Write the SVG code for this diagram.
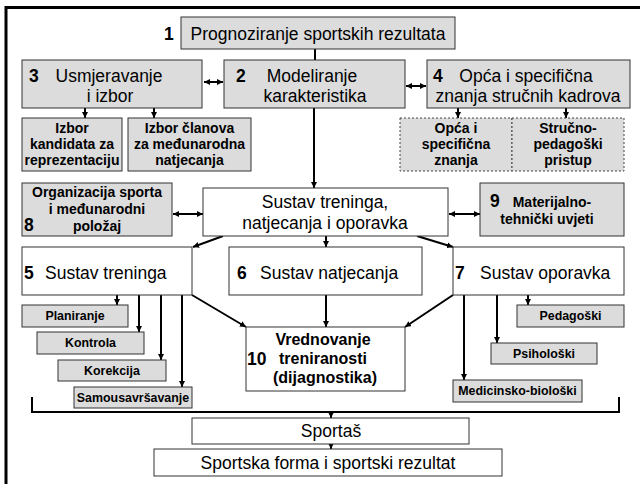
<svg xmlns="http://www.w3.org/2000/svg" width="640" height="484" viewBox="0 0 640 484">
<defs>
<marker id="ah" viewBox="0 0 6 6" refX="6" refY="3" markerWidth="6" markerHeight="6" markerUnits="userSpaceOnUse" orient="auto-start-reverse">
<path d="M0,0 L6,3 L0,6 z" fill="#000"/>
</marker>
<style>
.g{fill:#dcdcdc;stroke:#333;stroke-width:1}
.w{fill:#fff;stroke:#333;stroke-width:1}
.d{fill:#dcdcdc;stroke:#444;stroke-width:1;stroke-dasharray:2,2}
text{font-family:"Liberation Sans",Arial,sans-serif;fill:#000}
.t{font-size:17.5px}
.c{text-anchor:middle}
.n{font-size:17.5px;font-weight:bold}
.b{font-size:14px;font-weight:bold;text-anchor:middle}
.s{font-size:12.4px;font-weight:bold;text-anchor:middle}
.v{font-size:16px;font-weight:bold;text-anchor:middle}
.k{stroke:#000;stroke-width:2;fill:none}
.a{stroke:#000;stroke-width:2;fill:none;marker-end:url(#ah)}
.aa{stroke:#000;stroke-width:2;fill:none;marker-end:url(#ah);marker-start:url(#ah)}
</style>
</defs>
<rect width="640" height="484" fill="#fff"/>
<path d="M6,484 V7.5 H640" fill="none" stroke="#000" stroke-width="3"/>

<g id="connectors">
<line class="k" x1="315" y1="49" x2="315" y2="60"/>
<line class="a" x1="314" y1="108" x2="314" y2="188"/>
<line class="aa" x1="204" y1="82" x2="223" y2="82"/>
<line class="aa" x1="406" y1="86" x2="426" y2="86"/>
<line class="a" x1="85" y1="108" x2="85" y2="118"/>
<line class="a" x1="154" y1="108" x2="154" y2="118"/>
<line class="a" x1="458" y1="108" x2="458" y2="118"/>
<line class="a" x1="566" y1="108" x2="566" y2="118"/>
<line class="aa" x1="173" y1="214" x2="203" y2="214"/>
<line class="aa" x1="449" y1="214" x2="480" y2="214"/>
<line class="a" x1="223" y1="236" x2="193" y2="247"/>
<line class="a" x1="326" y1="236" x2="326" y2="247"/>
<line class="a" x1="417" y1="236" x2="453" y2="247"/>
<line class="a" x1="192" y1="295" x2="246" y2="327"/>
<line class="a" x1="326" y1="295" x2="326" y2="327"/>
<line class="a" x1="453" y1="295" x2="405" y2="327"/>
<line class="a" x1="117" y1="295" x2="117" y2="305"/>
<line class="a" x1="139" y1="295" x2="139" y2="332"/>
<line class="a" x1="161" y1="295" x2="161" y2="360"/>
<line class="a" x1="182" y1="295" x2="182" y2="387"/>
<line class="a" x1="528" y1="295" x2="528" y2="305"/>
<line class="a" x1="497" y1="295" x2="497" y2="343"/>
<line class="a" x1="464" y1="295" x2="464" y2="380"/>
<path class="k" d="M32,397 V412 H619 V397"/>
<line class="a" x1="331" y1="412" x2="331" y2="418"/>
<line class="a" x1="331" y1="444" x2="331" y2="449"/>
</g>

<g id="n1">
<rect class="g" x="181" y="17" width="274" height="32"/>
<text class="n" x="164" y="40">1</text>
<text class="t c" x="318" y="40">Prognoziranje sportskih rezultata</text>
</g>
<g id="n3">
<rect class="g" x="22" y="60" width="180" height="48"/>
<text class="n" x="29" y="82">3</text>
<text class="t c" x="109" y="82">Usmjeravanje</text>
<text class="t c" x="110" y="102">i izbor</text>
</g>
<g id="n2">
<rect class="g" x="224" y="60" width="181" height="48"/>
<text class="n" x="236" y="82">2</text>
<text class="t c" x="312" y="82">Modeliranje</text>
<text class="t c" x="315" y="102">karakteristika</text>
</g>
<g id="n4">
<rect class="g" x="427" y="60" width="203" height="48"/>
<text class="n" x="433" y="82">4</text>
<text class="t c" x="526" y="82">Opća i specifična</text>
<text class="t c" x="528" y="102">znanja stručnih kadrova</text>
</g>
<g id="n3a">
<rect class="g" x="22" y="118" width="100" height="53"/>
<text class="b" x="72" y="133">Izbor</text>
<text class="b" x="72" y="149">kandidata za</text>
<text class="b" x="72" y="165">reprezentaciju</text>
</g>
<g id="n3b">
<rect class="g" x="128" y="118" width="123" height="53"/>
<text class="b" x="189.5" y="133">Izbor članova</text>
<text class="b" x="189.5" y="149">za međunarodna</text>
<text class="b" x="189.5" y="165">natjecanja</text>
</g>
<g id="n4a">
<rect class="d" x="400" y="118" width="112" height="53"/>
<text class="b" x="456" y="133">Opća i</text>
<text class="b" x="456" y="149">specifična</text>
<text class="b" x="456" y="165">znanja</text>
</g>
<g id="n4b">
<rect class="d" x="512" y="118" width="112" height="53"/>
<text class="b" x="568" y="133">Stručno-</text>
<text class="b" x="568" y="149">pedagoški</text>
<text class="b" x="568" y="165">pristup</text>
</g>
<g id="n8">
<rect class="g" x="22" y="183" width="150" height="53"/>
<text class="b" x="97" y="197">Organizacija sporta</text>
<text class="b" x="97" y="214">i međunarodni</text>
<text class="b" x="97" y="231">položaj</text>
<text class="n" x="24" y="231" font-size="19">8</text>
</g>
<g id="nc">
<rect class="w" x="203" y="188" width="245" height="48"/>
<text class="t c" x="325" y="208">Sustav treninga,</text>
<text class="t c" x="325" y="229">natjecanja i oporavka</text>
</g>
<g id="n9">
<rect class="g" x="480" y="183" width="144" height="53"/>
<text class="n" x="490" y="207">9</text>
<text class="b" x="552" y="207">Materijalno-</text>
<text class="b" x="547" y="224">tehnički uvjeti</text>
</g>
<g id="n5">
<rect class="w" x="22" y="247" width="170" height="48"/>
<text class="n" x="24" y="279">5</text>
<text class="t" x="45" y="279">Sustav treninga</text>
</g>
<g id="n6">
<rect class="w" x="229" y="247" width="193" height="48"/>
<text class="n" x="237" y="279">6</text>
<text class="t" x="260" y="279">Sustav natjecanja</text>
</g>
<g id="n7">
<rect class="w" x="453" y="247" width="171" height="48"/>
<text class="n" x="455" y="279">7</text>
<text class="t" x="480" y="279">Sustav oporavka</text>
</g>
<g id="n10">
<rect class="w" x="246" y="327" width="159" height="64"/>
<text class="v" x="323" y="345">Vrednovanje</text>
<text class="v" x="323" y="364">treniranosti</text>
<text class="v" x="325" y="383">(dijagnostika)</text>
<text class="n" x="247" y="365" font-size="18">10</text>
</g>
<g id="n5a">
<rect class="g" x="22" y="305" width="106" height="22"/>
<text class="s" x="75" y="320">Planiranje</text>
</g>
<g id="n5b">
<rect class="g" x="37" y="332" width="107" height="22"/>
<text class="s" x="90.5" y="347">Kontrola</text>
</g>
<g id="n5c">
<rect class="g" x="58" y="360" width="108" height="21"/>
<text class="s" x="112" y="375">Korekcija</text>
</g>
<g id="n5d">
<rect class="g" x="74" y="387" width="118" height="21"/>
<text class="s" x="133" y="402">Samousavršavanje</text>
</g>
<g id="n7a">
<rect class="g" x="517" y="305" width="107" height="22"/>
<text class="s" x="570.5" y="320">Pedagoški</text>
</g>
<g id="n7b">
<rect class="g" x="491" y="343" width="106" height="21"/>
<text class="s" x="544" y="358">Psihološki</text>
</g>
<g id="n7c">
<rect class="g" x="453" y="380" width="129" height="22"/>
<text class="s" x="517.5" y="395">Medicinsko-biološki</text>
</g>
<g id="nsp">
<rect class="w" x="192" y="418" width="277" height="26"/>
<text class="t c" x="331" y="437">Sportaš</text>
</g>
<g id="nsf">
<rect class="w" x="154" y="449" width="348" height="27"/>
<text class="t c" x="328" y="469">Sportska forma i sportski rezultat</text>
</g>
</svg>
